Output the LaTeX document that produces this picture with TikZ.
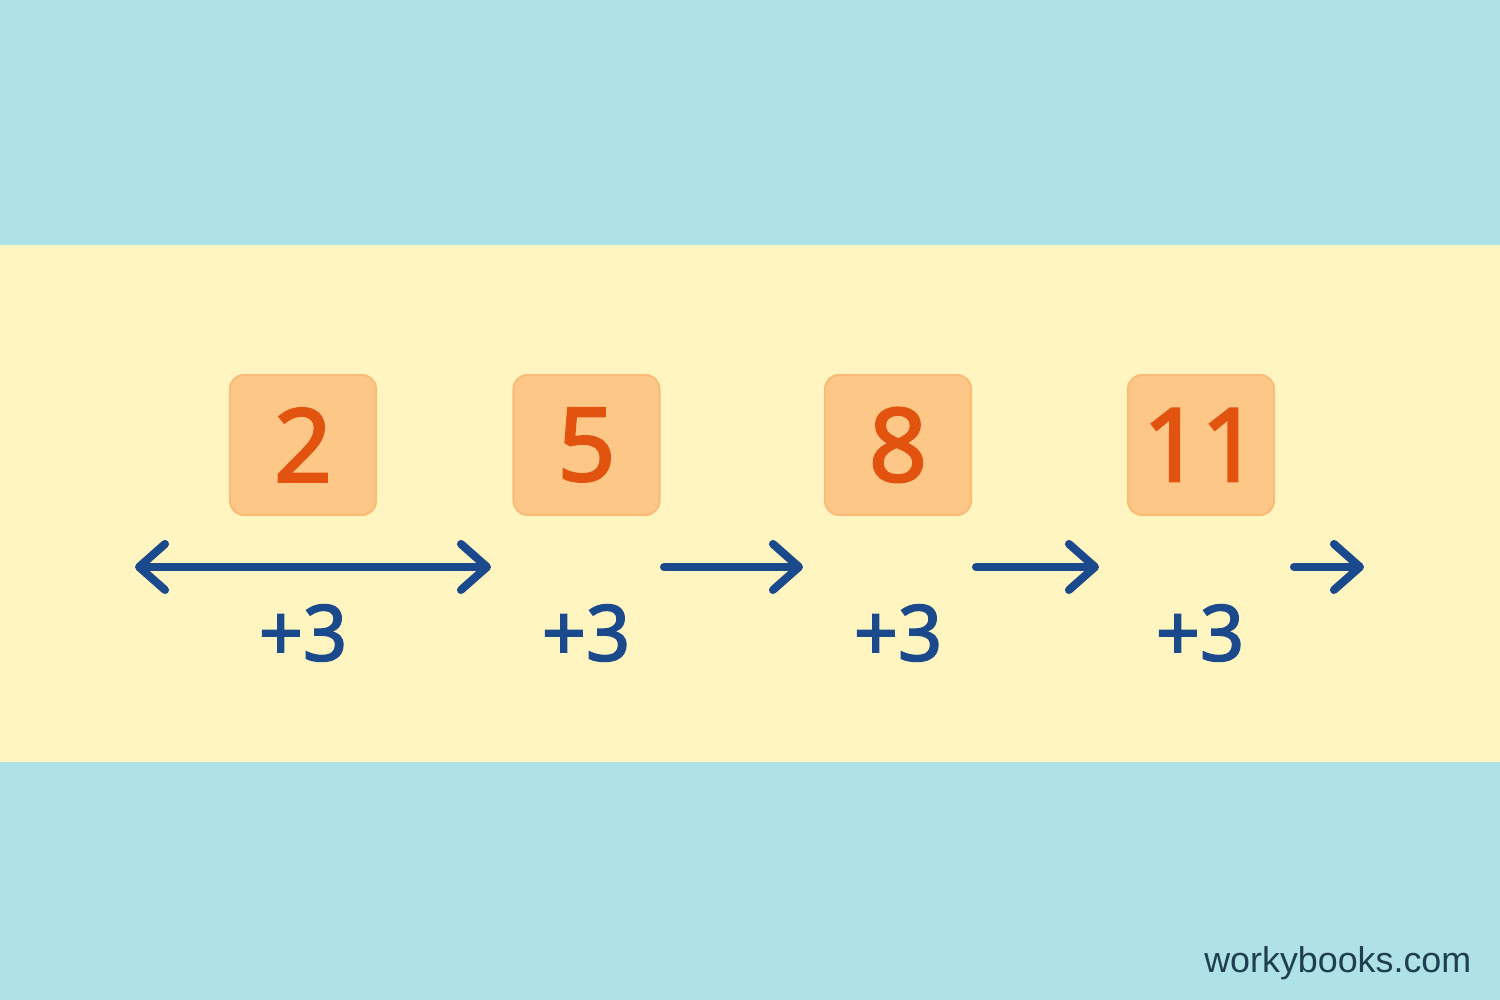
\documentclass[tikz,border=0pt]{standalone}
\usepackage{fontspec}
\setmainfont{Noto Sans}
\newfontfamily\numfont[FakeBold=2.2]{Noto Sans}
\newfontfamily\markfont{Liberation Sans}
\usetikzlibrary{arrows.meta}

\definecolor{skyteal}{HTML}{AEE2E6}
\definecolor{bandyellow}{HTML}{FFF5C0}
\definecolor{boxorange}{HTML}{FDC887}
\definecolor{boxedge}{HTML}{F8BD78}
\definecolor{numorange}{HTML}{E2530F}
\definecolor{stepblue}{HTML}{1A4A8C}
\definecolor{markgrey}{HTML}{1F3F50}

\tikzset{
  numbox/.style={rounded corners=4pt, fill=boxorange, draw=boxedge, line width=0.6pt,
    minimum width=1.46cm, minimum height=1.40cm, inner sep=0pt,
    text=numorange, font=\numfont\fontsize{29}{29}\selectfont},
  steplabel/.style={text=stepblue, font=\numfont\fontsize{22}{22}\selectfont},
  barb/.tip={Straight Barb[length=2.6mm, width=4.6mm, line cap=round, line join=round]},
  steparrow/.style={stepblue, line width=2.3pt, line cap=round, -barb}
}

\begin{document}
\begin{tikzpicture}
    \path[use as bounding box] (0,0) rectangle (15,10);
    % Background.
    \fill[skyteal] (0,0) rectangle (15,10);
    \fill[bandyellow] (0,2.38) rectangle (15,7.55);
    % Terms.
    \node[numbox] (n2) at (3.03,5.55) {2};
    \node[numbox] (n5) at (5.865,5.55) {5};
    \node[numbox] (n8) at (8.98,5.55) {8};
    \node[numbox] (n11) at (12.01,5.55) {11};
    % Steps.
    \coordinate (a1s) at (1.35,4.33);
    \coordinate (a1e) at (4.91,4.33);
    \coordinate (a2s) at (6.64,4.33);
    \coordinate (a2e) at (8.03,4.33);
    \coordinate (a3s) at (9.76,4.33);
    \coordinate (a3e) at (10.99,4.33);
    \coordinate (a4s) at (12.94,4.33);
    \coordinate (a4e) at (13.64,4.33);
    \draw[steparrow, barb-barb] (a1s) -- (a1e);
    \foreach \i in {2,3,4}
    \draw[steparrow] (a\i s) -- (a\i e);
    \node[steplabel] (s1) at (3.03,3.67) {+3};
    \node[steplabel] (s2) at (5.86,3.67) {+3};
    \node[steplabel] (s3) at (8.98,3.67) {+3};
    \node[steplabel] (s4) at (12.0,3.67) {+3};
    % Mark.
    \node[anchor=east, text=markgrey, font=\markfont\fontsize{10.2}{10.2}\selectfont, inner sep=0pt] (mark) at (14.72,0.37) {workybooks.com};
\end{tikzpicture}
\end{document}
